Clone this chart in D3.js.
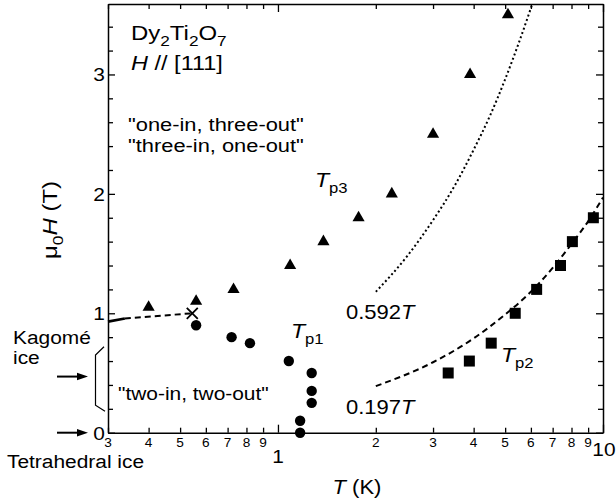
<!DOCTYPE html>
<html><head><meta charset="utf-8">
<script src="https://cdn.jsdelivr.net/npm/d3@7"></script>
<style>body{margin:0;background:#fff}svg{display:block}</style>
</head><body>
<svg id="c" width="616" height="499"></svg>
<script>
// ---- data ----
const tp3T = [0.40, 0.56, 0.73, 1.09, 1.38, 1.77, 2.24, 3.0, 3.9, 5.1];
const tp3H = [1.05, 1.10, 1.20, 1.40, 1.60, 1.80, 2.00, 2.50, 3.00, 3.50];
const tp1T = [0.56, 0.72, 0.82, 1.08, 1.27, 1.27, 1.27, 1.17, 1.17];
const tp1H = [0.90, 0.80, 0.75, 0.60, 0.50, 0.35, 0.25, 0.10, 0.00];
const tp2T = [3.34, 3.88, 4.53, 5.37, 6.25, 7.40, 8.05, 9.34];
const tp2H = [0.50, 0.60, 0.75, 1.00, 1.20, 1.40, 1.60, 1.80];
const crossT = [0.545];
const crossH = [1.00];
const kagSolidT = [0.30, 0.338];
const kagSolidH = [0.93, 0.957];
const kagDashT = [0.338, 0.545];
const kagDashH = [0.957, 1.00];
const fit592T = [2.0, 2.5, 3.0, 3.5, 4.0, 4.5, 5.0, 5.5, 6.06];
const fit592H = [1.18, 1.48, 1.78, 2.07, 2.37, 2.66, 2.96, 3.26, 3.59];
const fit197T = [2, 3, 4, 5, 6, 7, 8, 9, 10];
const fit197H = [0.39, 0.59, 0.79, 0.99, 1.18, 1.38, 1.58, 1.77, 1.97];
const xMinorTicks = [0.3, 0.4, 0.5, 0.6, 0.7, 0.8, 0.9, 2, 3, 4, 5, 6, 7, 8, 9];
const xMinorLabels = ["3", "4", "5", "6", "7", "8", "9", "2", "3", "4", "5", "6", "7", "8", "9"];
const xMajorTicks = [1, 10];
const xMajorLabels = ["1", "10"];
const yMajorTicks = [0, 1, 2, 3];
const yMajorLabels = ["0", "1", "2", "3"];
const yMinorTicks = [0.2, 0.4, 0.6, 0.8, 1.2, 1.4, 1.6, 1.8, 2.2, 2.4, 2.6, 2.8, 3.2, 3.4];

// ---- layout ----
const L = 108, R = 603, T = 4, B = 432.7;
const FONT = "'Liberation Sans', Arial, Helvetica, sans-serif";
const SX = 1.1;

const svg = d3.select("#c");
const x = d3.scaleLog().domain([0.3, 10]).range([L, R]);
const y = d3.scaleLinear().domain([0, 3.59]).range([B, T]);

function styleAxis(g) {
  g.selectAll("path.domain").attr("stroke", "#000").attr("stroke-width", 1.5);
  g.selectAll(".tick line").attr("stroke", "#000").attr("stroke-width", 1.3);
}
const allX = xMinorTicks.concat(xMajorTicks);
const allY = yMajorTicks.concat(yMinorTicks);
const isMajX = v => xMajorTicks.includes(v);
const isMajY = v => yMajorTicks.includes(v);

// bottom
const gB = svg.append("g").attr("transform", `translate(0,${B})`)
  .call(d3.axisBottom(x).tickValues(allX).tickSize(-5).tickSizeOuter(0).tickFormat(""));
gB.selectAll(".tick line").attr("y2", d => isMajX(d) ? -8 : -5);
styleAxis(gB);
// top
const gT = svg.append("g").attr("transform", `translate(0,${T})`)
  .call(d3.axisTop(x).tickValues(allX).tickSize(-5).tickSizeOuter(0).tickFormat(""));
gT.selectAll(".tick line").attr("y2", d => isMajX(d) ? 8 : 5);
styleAxis(gT);
// left
const gL = svg.append("g").attr("transform", `translate(${L},0)`)
  .call(d3.axisLeft(y).tickValues(allY).tickSize(-5).tickSizeOuter(0).tickFormat(""));
gL.selectAll(".tick line").attr("x2", d => isMajY(d) ? 7 : 5);
styleAxis(gL);
// right
const gR = svg.append("g").attr("transform", `translate(${R},0)`)
  .call(d3.axisRight(y).tickValues(allY).tickSize(-5).tickSizeOuter(0).tickFormat(""));
gR.selectAll(".tick line").attr("x2", d => isMajY(d) ? -7 : -5);
styleAxis(gR);

// text helper
function addText(px, py, parts, size, anchor, sx, rot) {
  const t = svg.append("text")
    .attr("transform", `translate(${px},${py})` + (rot ? ` rotate(${rot})` : "") + ` scale(${sx || SX},1)`)
    .attr("font-family", FONT).attr("font-size", size).attr("fill", "#000")
    .attr("text-anchor", anchor || "start");
  let shift = 0;
  parts.forEach(p => {
    const s = t.append("tspan").text(p.t);
    const want = p.sub ? Math.round(size * 0.3) : 0;
    if (want !== shift) { s.attr("dy", want - shift); shift = want; }
    if (p.sub) s.attr("font-size", size * 0.72);
    if (p.it) s.attr("font-style", "italic");
  });
  return t;
}

// tick labels
xMinorTicks.forEach((v, i) => addText(x(v), B + 14.5, [{t: xMinorLabels[i]}], 13, "middle", 1.05));
addText(x(1), B + 30, [{t: xMajorLabels[0]}], 19, "middle");
addText(x(10) + 1, B + 23, [{t: xMajorLabels[1]}], 19, "middle");
yMajorTicks.forEach((v, i) => addText(L - 3, y(v) + 6.8, [{t: yMajorLabels[i]}], 19, "end"));

// axis titles
addText(357, 494, [{t: "T", it: true}, {t: " (K)"}], 20, "middle");
addText(57, 220, [{t: "μ"}, {t: "0", sub: true}, {t: "H", it: true}, {t: "  (T)"}], 20, "middle", 1.2, -90);

// lines
const line = d3.line().x(d => x(d[0])).y(d => y(d[1]));
const lineC = d3.line().x(d => x(d[0])).y(d => y(d[1])).curve(d3.curveMonotoneX);
const plot = svg.append("g");
plot.append("path").attr("d", lineC(fit592T.map((v, i) => [v, fit592H[i]])))
  .attr("fill", "none").attr("stroke", "#000").attr("stroke-width", 2).attr("stroke-dasharray", "2,2.6");
plot.append("path").attr("d", lineC(fit197T.map((v, i) => [v, fit197H[i]])))
  .attr("fill", "none").attr("stroke", "#000").attr("stroke-width", 2).attr("stroke-dasharray", "6,4");
plot.append("path").attr("d", line(kagSolidT.map((v, i) => [v, kagSolidH[i]])))
  .attr("fill", "none").attr("stroke", "#000").attr("stroke-width", 2.6);
plot.append("path").attr("d", line(kagDashT.map((v, i) => [v, kagDashH[i]])))
  .attr("fill", "none").attr("stroke", "#000").attr("stroke-width", 2).attr("stroke-dasharray", "6,4");

// markers
plot.selectAll("path.tri").data(tp3T.map((v, i) => [v, tp3H[i]])).join("path")
  .attr("transform", d => `translate(${x(d[0])},${y(d[1])})`)
  .attr("d", d3.symbol(d3.symbolTriangle, 64)).attr("fill", "#000");
plot.selectAll("circle.c1").data(tp1T.map((v, i) => [v, tp1H[i]])).join("circle")
  .attr("cx", d => x(d[0])).attr("cy", d => y(d[1])).attr("r", 5.2).attr("fill", "#000");
plot.selectAll("path.sq").data(tp2T.map((v, i) => [v, tp2H[i]])).join("path")
  .attr("transform", d => `translate(${x(d[0])},${y(d[1])})`)
  .attr("d", d3.symbol(d3.symbolSquare, 121)).attr("fill", "#000");
crossT.forEach((v, i) => {
  const cx = x(v), cy = y(crossH[i]), s = 5.5;
  plot.append("path").attr("d", `M${cx - s},${cy - s}L${cx + s},${cy + s}M${cx - s},${cy + s}L${cx + s},${cy - s}`)
    .attr("stroke", "#000").attr("stroke-width", 1.8);
});

// annotations
addText(131, 40, [{t: "Dy"}, {t: "2", sub: true}, {t: "Ti"}, {t: "2", sub: true}, {t: "O"}, {t: "7", sub: true}], 21, "start", 1.14);
addText(131, 70, [{t: "H", it: true}, {t: " // [111]"}], 21, "start", 1.12);
addText(128, 131, [{t: "\"one-in, three-out\""}], 19, "start", 1.15);
addText(128, 152, [{t: "\"three-in, one-out\""}], 19, "start", 1.15);
addText(315, 187, [{t: "T", it: true}, {t: "p3", sub: true}], 21, "start");
addText(291, 338, [{t: "T", it: true}, {t: "p1", sub: true}], 21, "start");
addText(501, 362, [{t: "T", it: true}, {t: "p2", sub: true}], 21, "start");
addText(346, 319, [{t: "0.592"}, {t: "T", it: true}], 20, "start");
addText(346, 414, [{t: "0.197"}, {t: "T", it: true}], 20, "start");
addText(118, 400, [{t: "\"two-in, two-out\""}], 19, "start");
addText(13, 344, [{t: "Kagomé"}], 19, "start");
addText(13, 364, [{t: "ice"}], 19, "start");
addText(7, 468, [{t: "Tetrahedral ice"}], 19, "start");

// arrows
function arrow(yv) {
  const yy = y(yv);
  svg.append("line").attr("x1", 57).attr("x2", 80).attr("y1", yy).attr("y2", yy)
    .attr("stroke", "#000").attr("stroke-width", 2);
  svg.append("path").attr("d", `M88,${yy}L77,${yy - 3.8}L77,${yy + 3.8}Z`).attr("fill", "#000");
}
arrow(0.47);
arrow(0);
// bracket
svg.append("path").attr("d", `M104,${y(0.72)}L95.5,${y(0.65)}L95.5,${y(0.23)}L105,${y(0.18)}`)
  .attr("fill", "none").attr("stroke", "#000").attr("stroke-width", 1.2);
</script>
</body></html>
